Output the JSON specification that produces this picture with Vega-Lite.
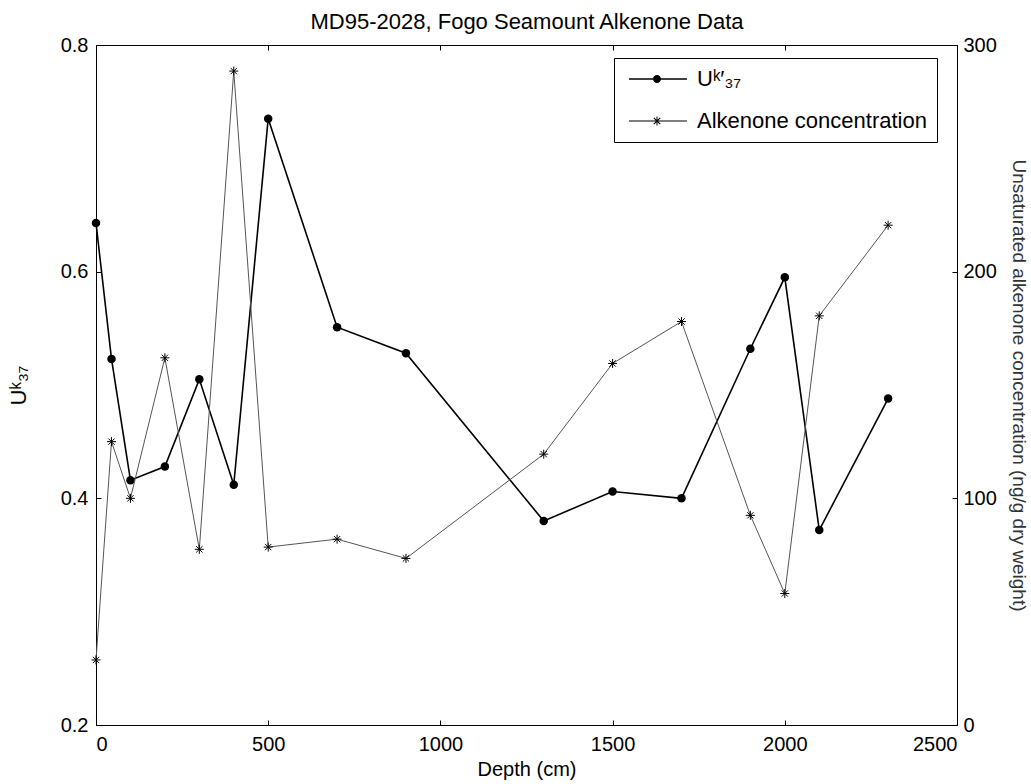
{
  "$schema": "https://vega.github.io/schema/vega-lite/v6.json",
  "width": 861,
  "height": 680,
  "autosize": "none",
  "padding": {"left": 96, "top": 45, "right": 74, "bottom": 59},
  "background": "white",
  "config": {
    "font": "Liberation Sans",
    "view": {"stroke": "black", "strokeWidth": 1},
    "axis": {
      "grid": false,
      "domainColor": "black",
      "tickColor": "black",
      "labelColor": "black",
      "titleColor": "black",
      "labelFontSize": 20,
      "titleFontSize": 20,
      "titleFontWeight": "normal",
      "tickSize": -5,
      "labelFont": "Liberation Sans",
      "titleFont": "Liberation Sans"
    }
  },
  "data": {
    "values": [
      {"depth": 0, "uk37": 0.643, "alk": 28.7},
      {"depth": 45, "uk37": 0.523, "alk": 125},
      {"depth": 100, "uk37": 0.416, "alk": 100},
      {"depth": 200, "uk37": 0.428, "alk": 162},
      {"depth": 300, "uk37": 0.505, "alk": 77.5},
      {"depth": 400, "uk37": 0.412, "alk": 288.5},
      {"depth": 500, "uk37": 0.735, "alk": 78.5},
      {"depth": 700, "uk37": 0.551, "alk": 82},
      {"depth": 900, "uk37": 0.528, "alk": 73.5},
      {"depth": 1300, "uk37": 0.38, "alk": 119.5},
      {"depth": 1500, "uk37": 0.406, "alk": 159.5},
      {"depth": 1700, "uk37": 0.4, "alk": 178},
      {"depth": 1900, "uk37": 0.532, "alk": 92.5},
      {"depth": 2000, "uk37": 0.595, "alk": 58},
      {"depth": 2100, "uk37": 0.372, "alk": 180.5},
      {"depth": 2300, "uk37": 0.488, "alk": 220.5}
    ]
  },
  "layer": [
    {
      "encoding": {
        "x": {
          "field": "depth",
          "type": "quantitative",
          "scale": {"domain": [0, 2500], "nice": false},
          "axis": {"orient": "bottom", "values": [0, 500, 1000, 1500, 2000, 2500], "format": "d", "title": "Depth (cm)", "labelPadding": 14, "titlePadding": 5}
        },
        "y": {
          "field": "uk37",
          "type": "quantitative",
          "scale": {"domain": [0.2, 0.8], "nice": false, "zero": false},
          "axis": {"orient": "left", "values": [0.2, 0.4, 0.6, 0.8], "format": ".1f", "title": "Uᵏ₃₇", "titleFontSize": 22, "labelPadding": 13, "titlePadding": 30}
        }
      },
      "layer": [
        {"mark": {"type": "line", "color": "black", "strokeWidth": 1.6}},
        {"mark": {"type": "point", "shape": "circle", "filled": true, "color": "black", "size": 72, "opacity": 1}},
        {
          "transform": [{"filter": "false"}],
          "mark": {"type": "point", "filled": true, "color": "black", "opacity": 1},
          "encoding": {
            "shape": {
              "datum": "Uᵏ′₃₇",
              "scale": {
                "domain": ["Uᵏ′₃₇", "Alkenone concentration"],
                "range": [
                  "M-0.6,-0.075L5.2,-0.075L5.2,0.075L-0.6,0.075ZM1.8,0A0.4,0.4 0 1,1 2.6,0A0.4,0.4 0 1,1 1.8,0Z",
                  "M-0.6,-0.045L5.2,-0.045L5.2,0.045L-0.6,0.045ZM1.75,-0.05L2.65,-0.05L2.65,0.05L1.75,0.05ZM2.15,-0.45L2.25,-0.45L2.25,0.45L2.15,0.45ZM1.915,-0.355L2.555,0.285L2.485,0.355L1.845,-0.285ZM1.845,0.285L2.485,-0.355L2.555,-0.285L1.915,0.355Z"
                ]
              },
              "legend": {
                "title": null,
                "orient": "none",
                "legendX": 518,
                "legendY": 13,
                "padding": 10,
                "strokeColor": "black",
                "fillColor": "white",
                "symbolSize": 400,
                "symbolFillColor": "black",
                "symbolOpacity": 1,
                "labelOffset": 51,
                "labelLimit": 400,
                "rowPadding": 20,
                "labelFontSize": 22,
                "labelFont": "Liberation Sans",
                "labelColor": "black"
              }
            }
          }
        }
      ]
    },
    {
      "encoding": {
        "x": {
          "field": "depth",
          "type": "quantitative",
          "scale": {"domain": [0, 2500], "nice": false},
          "axis": {"orient": "top", "values": [0, 500, 1000, 1500, 2000, 2500], "labels": false, "title": "MD95-2028, Fogo Seamount Alkenone Data", "titleFontSize": 22, "titlePadding": 11}
        },
        "y": {
          "field": "alk",
          "type": "quantitative",
          "scale": {"domain": [0, 300], "nice": false},
          "axis": {"orient": "right", "values": [0, 100, 200, 300], "title": "Unsaturated alkenone concentration (ng/g dry weight)", "titleColor": "#333", "titleFontSize": 19, "labelPadding": 11, "titlePadding": 12}
        }
      },
      "layer": [
        {"mark": {"type": "line", "color": "#555", "strokeWidth": 1}},
        {"mark": {"type": "point", "shape": "M-1,0L1,0M0,-1L0,1M-0.7,-0.7L0.7,0.7M-0.7,0.7L0.7,-0.7", "filled": false, "color": "black", "size": 81, "strokeWidth": 1, "opacity": 1}}
      ]
    }
  ],
  "resolve": {"scale": {"y": "independent"}, "axis": {"x": "independent"}}
}
